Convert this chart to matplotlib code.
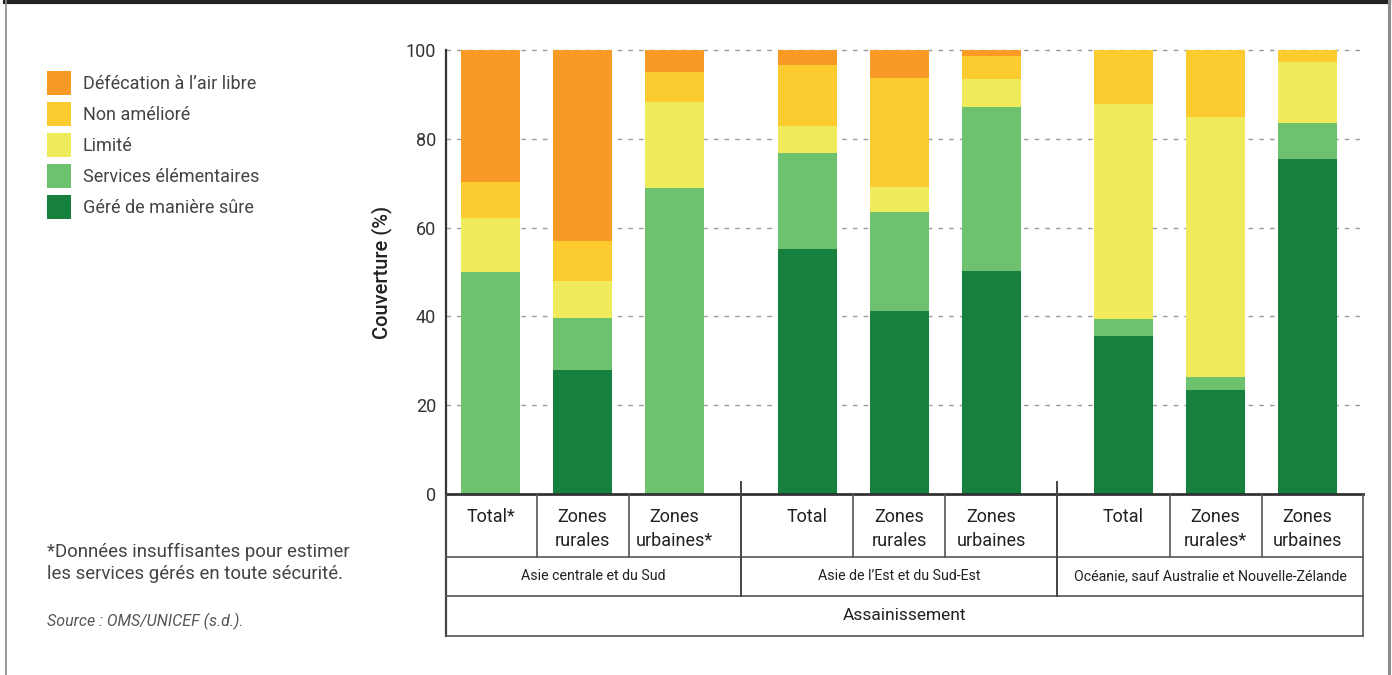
import matplotlib
matplotlib.use("Agg")
import matplotlib.pyplot as plt
from matplotlib.patches import Rectangle
from matplotlib.lines import Line2D

plt.rcParams['font.family'] = ['Roboto', 'DejaVu Sans']

# ---------------- data ----------------
groups = ["Asie centrale et du Sud", "Asie de l\u2019Est et du Sud-Est",
          "Océanie, sauf Australie et Nouvelle-Zélande"]
categories = ["Total*", "Zones\nrurales", "Zones\nurbaines*",
              "Total", "Zones\nrurales", "Zones\nurbaines",
              "Total", "Zones\nrurales*", "Zones\nurbaines"]
group_of_bar = [0, 0, 0, 1, 1, 1, 2, 2, 2]
super_label = "Assainissement"

series_names = ["Géré de manière sûre", "Services élémentaires", "Limité",
                "Non amélioré", "Défécation à l\u2019air libre"]
gere = [0, 28.0, 0, 55.2, 41.2, 50.2, 35.6, 23.4, 75.5]
services = [50.0, 11.6, 69.0, 21.6, 22.3, 37.0, 3.8, 3.0, 8.1]
limite = [12.2, 8.4, 19.2, 6.1, 5.6, 6.3, 48.4, 58.5, 13.7]
non_ameliore = [8.1, 9.0, 6.9, 13.7, 24.6, 5.1, 12.2, 15.1, 2.7]
defecation = [29.7, 43.0, 4.9, 3.4, 6.3, 1.4, 0, 0, 0]
series_values = [gere, services, limite, non_ameliore, defecation]
colors = ["#16803f", "#6ec26f", "#f0eb5c", "#fccb30", "#f79a26"]

yticks = [0, 20, 40, 60, 80, 100]
ylabel = "Couverture (%)"
footnote = "*Données insuffisantes pour estimer\nles services gérés en toute sécurité."
source = "Source : OMS/UNICEF (s.d.)."

# ---------------- layout ----------------
W, H = 1392, 675
fig = plt.figure(figsize=(W / 100, H / 100), dpi=100)
ax_l, ax_r, ax_b, ax_t = 446, 1363, 494, 50
ax = fig.add_axes([ax_l / W, 1 - ax_b / H, (ax_r - ax_l) / W, (ax_b - ax_t) / H])

BAR_W = 59
BAR_STEP = 92
GROUP_STEP = 316.5
FIRST = 44.5
xpos = []
idx_in_group = {}
for g in group_of_bar:
    i = idx_in_group.get(g, 0)
    xpos.append(FIRST + g * GROUP_STEP + i * BAR_STEP)
    idx_in_group[g] = i + 1
XMAX = ax_r - ax_l

bottom = [0.0] * len(categories)
for vals, col, name in zip(series_values, colors, series_names):
    ax.bar(xpos, vals, width=BAR_W, bottom=bottom, color=col, linewidth=0,
           zorder=3, label=name)
    bottom = [b + v for b, v in zip(bottom, vals)]

ax.set_xlim(0, XMAX)
ax.set_ylim(0, 100)
ax.set_yticks(yticks)
ax.set_yticklabels([str(t) for t in yticks], fontsize=13, color="#333333")
ax.tick_params(axis='y', length=0, pad=7)
ax.set_xticks([])
for t in yticks[1:]:
    ax.plot([0, XMAX], [t, t], color="#9a9a9a", lw=1.0, dashes=(3.3, 4.4),
            zorder=1, clip_on=False)
for s in ["top", "right", "bottom"]:
    ax.spines[s].set_visible(False)
ax.spines["left"].set_color("#333333")
ax.spines["left"].set_linewidth(1.6)
ax.set_ylabel(ylabel, fontsize=14.5, fontweight='medium', color="#222222", labelpad=10)

# ---------------- table below ----------------
px = 100.0 / (ax_b - ax_t)  # data units per pixel (y)
r1 = -(557 - ax_b) * px
r2 = -(596 - ax_b) * px
r3 = -(636 - ax_b) * px
lc = "#555555"
ax.plot([0, XMAX], [0, 0], color="#333333", lw=2.0, clip_on=False, zorder=5)
ax.plot([0, 0], [0, r3], color="#444444", lw=1.6, clip_on=False, zorder=5)
ax.plot([XMAX, XMAX], [0, r3], color=lc, lw=1.2, clip_on=False, zorder=5)
for yy in (r1, r2, r3):
    ax.plot([0, XMAX], [yy, yy], color=lc, lw=1.2, clip_on=False, zorder=5)

bounds_in = []
bounds_grp = []
for k in range(len(xpos) - 1):
    mid = (xpos[k] + BAR_W / 2 + xpos[k + 1] - BAR_W / 2) / 2
    if group_of_bar[k] != group_of_bar[k + 1]:
        bounds_grp.append(mid)
    else:
        bounds_in.append(mid)
for b in bounds_in:
    ax.plot([b, b], [0, r1], color=lc, lw=1.2, clip_on=False, zorder=5)
for b in bounds_grp:
    ax.plot([b, b], [12 * px, r2], color="#444444", lw=1.4, clip_on=False, zorder=5)

for x, lab in zip(xpos, categories):
    ax.text(x, -(508 - ax_b) * px, lab, ha='center', va='top', fontsize=13,
            color="#222222", linespacing=1.45, clip_on=False)
edges = [0] + bounds_grp + [XMAX]
for g, name in enumerate(groups):
    ax.text((edges[g] + edges[g + 1]) / 2, (r1 + r2) / 2, name, ha='center', va='center',
            fontsize=10.2, color="#222222")
ax.text(XMAX / 2, (r2 + r3) / 2, super_label, ha='center', va='center', fontsize=12.5,
        color="#222222")

# ---------------- legend (left) ----------------
leg_items = list(zip(series_names, colors))[::-1]
for k, (name, col) in enumerate(leg_items):
    y_top = 71 + k * 31
    fig.patches.append(Rectangle((47 / W, 1 - (y_top + 24) / H), 24 / W, 24 / H,
                                 transform=fig.transFigure, color=col, linewidth=0))
    fig.text(83 / W, 1 - (y_top + 13) / H, name, ha='left', va='center',
             fontsize=13, color="#444444")

fig.text(47 / W, 1 - 563 / H, footnote, ha='left', va='center', fontsize=13.4,
         color="#444444", linespacing=1.25)
fig.text(47 / W, 1 - 621 / H, source, ha='left', va='center', fontsize=11.5,
         color="#555555", style='italic')

# ---------------- frame ----------------
fig.add_artist(Line2D([5 / W, 1389 / W], [1 - 1.5 / H, 1 - 1.5 / H],
                      transform=fig.transFigure, color="#222222", lw=3))
fig.add_artist(Line2D([5.5 / W, 5.5 / W], [0, 1], transform=fig.transFigure,
                      color="#8a8a8a", lw=1.2))
fig.add_artist(Line2D([1388.5 / W, 1388.5 / W], [0, 1], transform=fig.transFigure,
                      color="#8a8a8a", lw=2.2))

fig.savefig("out.png", dpi=100, facecolor="white")
